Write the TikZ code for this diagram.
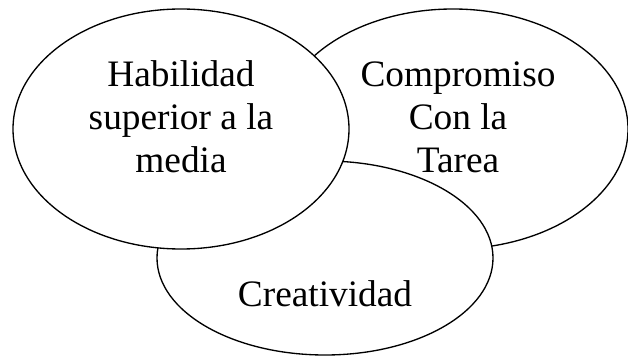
\documentclass[tikz,border=0pt]{standalone}
\usepackage{fontspec}
\setmainfont{Liberation Serif}
\begin{document}
\begin{tikzpicture}[x=0.75pt,y=-0.75pt,
    ring/.style={draw=black,fill=white,line width=1pt},
    label/.style={inner sep=0pt,align=center,font=\fontsize{28}{32.2}\selectfont}]
% \clip (0,0) rectangle (628,356);
\useasboundingbox (0,0) rectangle (628,356);

% Drawing ellipse Compromiso con la tarea
\draw [ring] (453,129) ellipse (175 and 120);

% Drawing ellipse Creatividad
\draw [ring] (325,258) ellipse (168 and 97);

% Drawing ellipse Habilidad
\draw [ring] (181,129) ellipse (168 and 120);

% Labels
\node [label] (habilidad) at (181,117) {Habilidad\\superior a la\\media};
\node [label] (compromiso) at (458,117) {Compromiso\\Con la\\Tarea};
\node [label,anchor=base] (creatividad) at (325,306) {Creatividad};
\end{tikzpicture}
\end{document}
